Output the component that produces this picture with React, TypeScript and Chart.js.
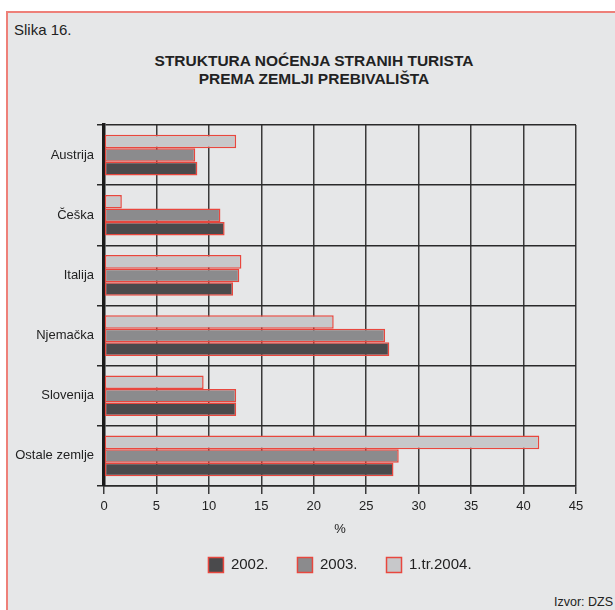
import React, { useEffect, useRef } from "react";
import { Chart, registerables } from "chart.js";

Chart.register(...registerables);

const FONT = "'Liberation Sans', Arial, Helvetica, sans-serif";

const categories = ["Austrija", "Češka", "Italija", "Njemačka", "Slovenija", "Ostale zemlje"];
const values2002 = [8.9, 11.5, 12.3, 27.2, 12.6, 27.6];
const values2003 = [8.7, 11.1, 12.9, 26.8, 12.6, 28.1];
const values2004q1 = [12.6, 1.7, 13.1, 21.9, 9.5, 41.5];
const seriesLabels = ["2002.", "2003.", "1.tr.2004."];
const xTicksMin = 0;
const xTicksMax = 45;
const xTicksStep = 5;

const titleLines = ["STRUKTURA NOĆENJA STRANIH TURISTA", "PREMA ZEMLJI PREBIVALIŠTA"];
const figureLabel = "Slika 16.";
const sourceLabel = "Izvor: DZS";
const xAxisTitle = "%";

export default function App() {
  const canvasRef = useRef<HTMLCanvasElement | null>(null);

  useEffect(() => {
    if (!canvasRef.current) return;
    const border = "#e8473e";
    const chart = new Chart(canvasRef.current, {
      type: "bar",
      data: {
        labels: categories,
        datasets: [
          {
            label: seriesLabels[2],
            data: values2004q1,
            backgroundColor: "#c7c8ca",
            borderColor: border,
            borderWidth: 1.5,
            borderSkipped: false,
          },
          {
            label: seriesLabels[1],
            data: values2003,
            backgroundColor: "#8b8b8d",
            borderColor: border,
            borderWidth: 1.5,
            borderSkipped: false,
          },
          {
            label: seriesLabels[0],
            data: values2002,
            backgroundColor: "#4a4a4c",
            borderColor: border,
            borderWidth: 1.5,
            borderSkipped: false,
          },
        ],
      },
      options: {
        indexAxis: "y",
        responsive: false,
        animation: false,
        events: [],
        datasets: { bar: { barPercentage: 1, categoryPercentage: 0.675 } },
        layout: { padding: { top: 125, left: 8, right: 39, bottom: 27.5 } },
        scales: {
          x: {
            min: xTicksMin,
            max: xTicksMax,
            ticks: { stepSize: xTicksStep, padding: 5, color: "#222", font: { family: FONT, size: 13 } },
            grid: { color: "#3a3a3a", lineWidth: 1.5, tickLength: 8 },
            border: { color: "#2a2a2a", width: 1.5 },
            title: {
              display: true,
              text: xAxisTitle,
              color: "#222",
              font: { family: FONT, size: 13 },
              padding: { top: 0, bottom: -8.3 },
            },
            afterFit: (s: any) => {
              s.height = 42.5;
            },
          },
          y: {
            ticks: { padding: 3, color: "#222", font: { family: FONT, size: 13 } },
            grid: { color: "#2a2a2a", lineWidth: 1.5, tickLength: 7, offset: true },
            border: { color: "#1a1a1a", width: 3.5 },
            afterFit: (s: any) => {
              s.width = 96;
            },
          },
        },
        plugins: {
          legend: {
            position: "bottom",
            fullSize: false,
            reverse: true,
            labels: {
              boxWidth: 15,
              boxHeight: 15,
              padding: 29,
              color: "#222",
              font: { family: FONT, size: 15 },
            },
          },
          title: { display: false },
          tooltip: { enabled: false },
        },
      },
    } as any);
    return () => chart.destroy();
  }, []);

  return (
    <div style={{ position: "absolute", left: 0, top: 0, width: 615, height: 610, background: "#fff", overflow: "hidden" }}>
      <div
        style={{
          position: "absolute",
          left: 6,
          top: 11,
          width: 609,
          height: 599,
          boxSizing: "border-box",
          background: "#e6e7e8",
          borderTop: "2px solid #ee8079",
          borderLeft: "2px solid #ee8079",
        }}
      />
      <div
        style={{
          position: "absolute",
          left: 14,
          top: 21,
          fontFamily: FONT,
          fontSize: 15,
          lineHeight: "18px",
          color: "#222",
          whiteSpace: "nowrap",
        }}
      >
        {figureLabel}
      </div>
      <div
        style={{
          position: "absolute",
          left: 14,
          top: 52,
          width: 600,
          textAlign: "center",
          fontFamily: FONT,
          fontWeight: "bold",
          fontSize: 15.5,
          lineHeight: "17.5px",
          color: "#222",
        }}
      >
        {titleLines.map((t, i) => (
          <div key={i}>{t}</div>
        ))}
      </div>
      <div
        style={{
          position: "absolute",
          left: 480,
          top: 594.5,
          width: 133,
          textAlign: "right",
          fontFamily: FONT,
          fontSize: 12.5,
          lineHeight: "15px",
          color: "#222",
          whiteSpace: "nowrap",
        }}
      >
        {sourceLabel}
      </div>
      <canvas ref={canvasRef} width={615} height={610} style={{ position: "absolute", left: 0, top: 0 }} />
    </div>
  );
}
